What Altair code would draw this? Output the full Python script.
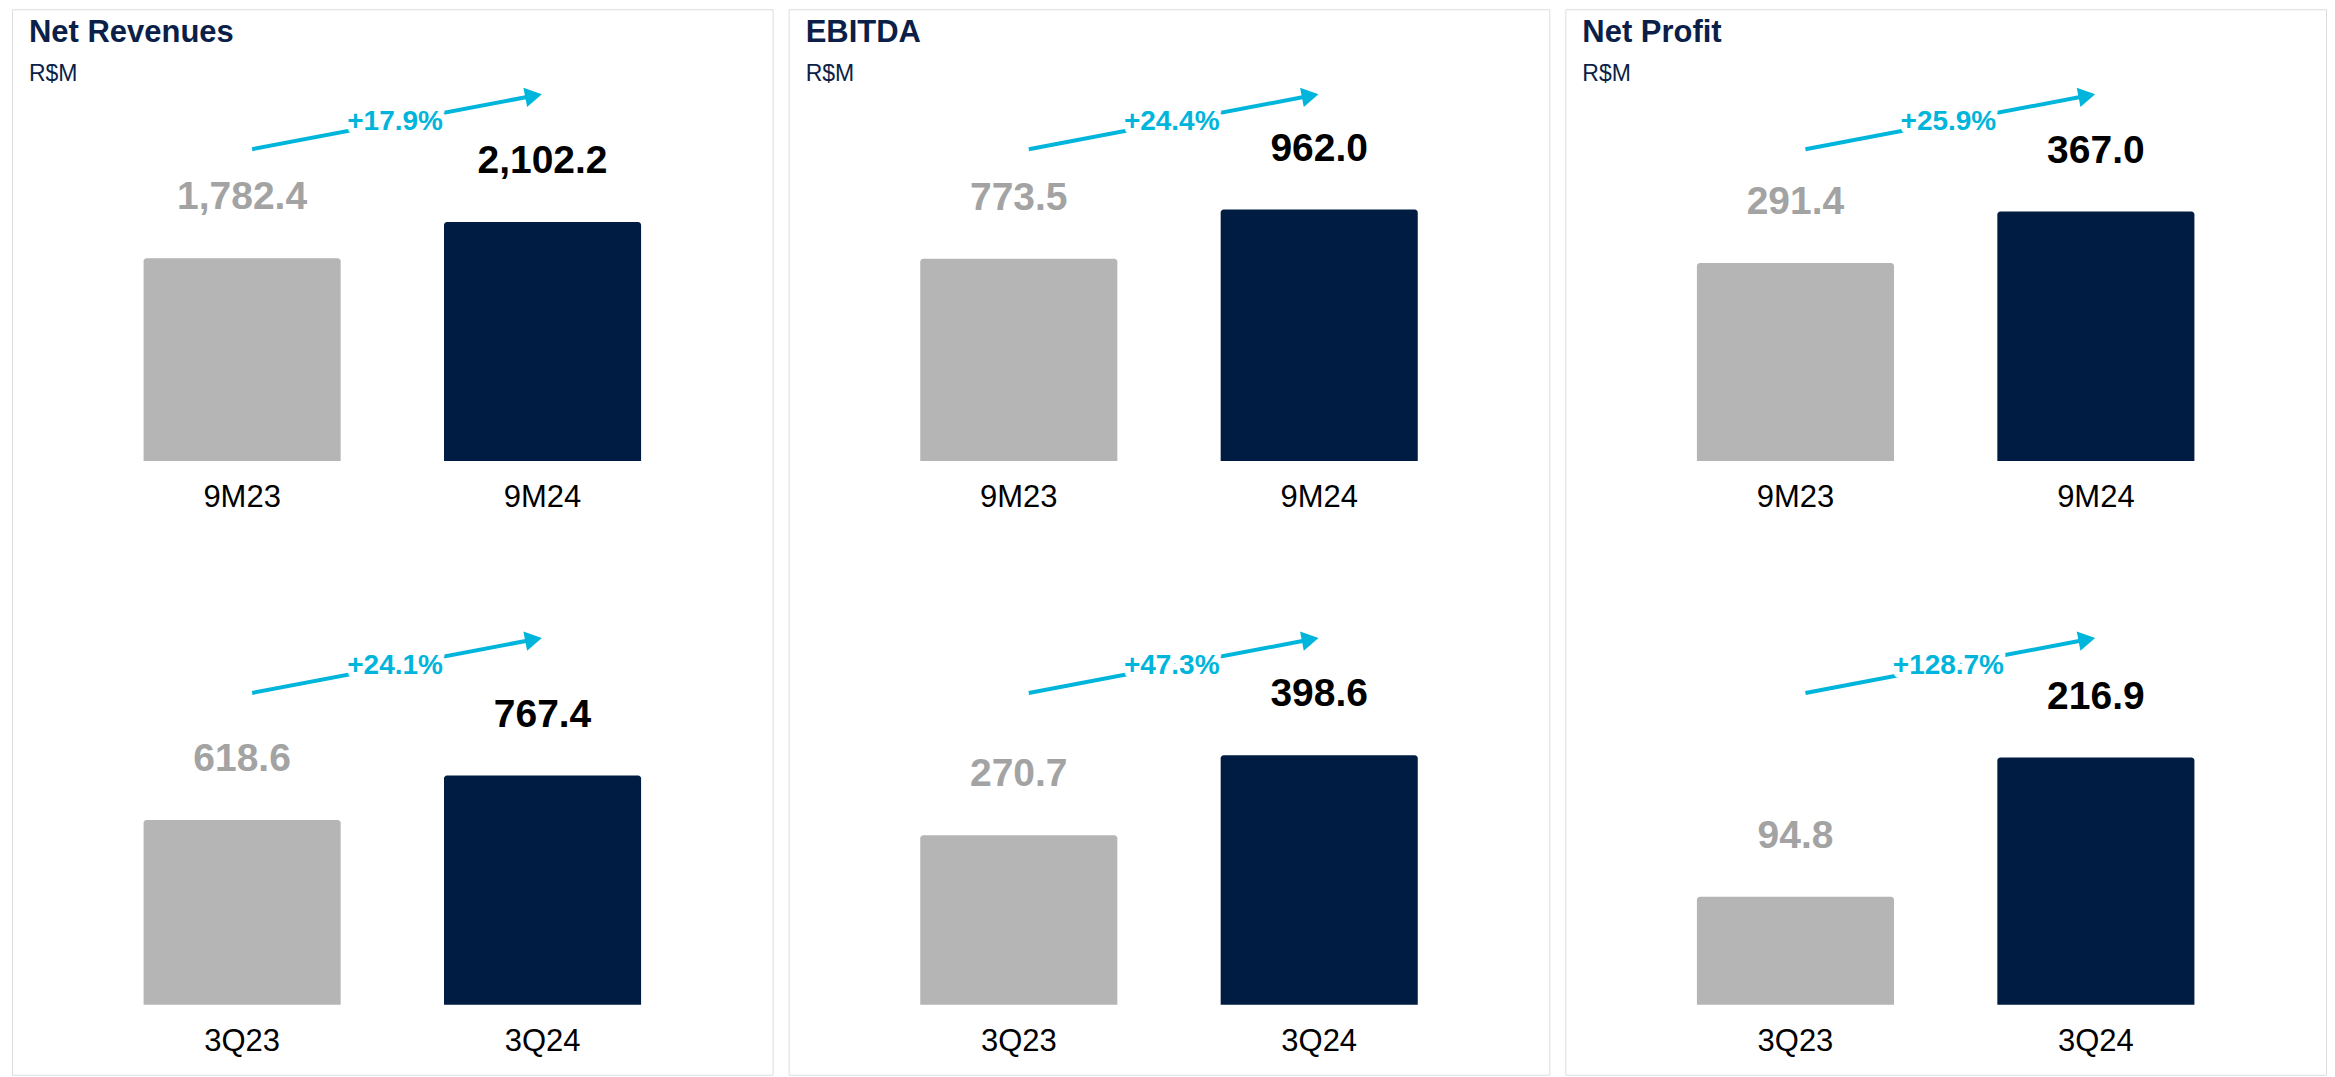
import altair as alt
import pandas as pd

# ---------------- data ----------------
metrics = ["Net Revenues", "EBITDA", "Net Profit"]
unit_label = "R$M"
periods_9m = ["9M23", "9M24"]
periods_3q = ["3Q23", "3Q24"]
prior_9m = [1782.4, 773.5, 291.4]
current_9m = [2102.2, 962.0, 367.0]
prior_3q = [618.6, 270.7, 94.8]
current_3q = [767.4, 398.6, 216.9]
growth_9m = ["+17.9%", "+24.4%", "+25.9%"]
growth_3q = ["+24.1%", "+47.3%", "+128.7%"]
# axis maximum of each small chart (value reached 300 px above its baseline)
axis_max_9m = [2636, 1147, 441]
axis_max_3q = [1004, 479, 263]

# ---------------- style ----------------
FONT = "Liberation Sans"
NAVY = "#001c42"
GRAY = "#b5b5b5"
GRAY_TXT = "#a3a3a3"
CYAN = "#00b5dc"
TITLE_C = "#0b1f48"
W, H = 761, 1066          # panel size
ROW_PLOT = 300            # px between baseline and axis max
BASE_TOP, BASE_BOT = 452, 996
ARROW_Y0, ARROW_Y1 = 1.04, 1.218

xscale = alt.Scale(domain=["prior", "current"], paddingInner=0.344, paddingOuter=0.438)


def row(periods, prior, current, growth, amax, base):
    k = ROW_PLOT / amax
    ys = alt.Scale(domain=[-(H - base) / k, base / k], nice=False, zero=False)
    df = pd.DataFrame({"slot": ["prior", "current"], "period": periods,
                       "value": [prior, current],
                       "label": [f"{prior:,.1f}", f"{current:,.1f}"]})
    arr = pd.DataFrame({"x0": ["prior"], "x1": ["current"],
                        "y0": [ARROW_Y0 * amax], "y1": [ARROW_Y1 * amax],
                        "ym": [(ARROW_Y0 + ARROW_Y1) / 2 * amax], "g": [growth]})
    X = alt.X("slot:N", scale=xscale, axis=None)
    bars = alt.Chart(df).mark_bar(cornerRadiusTopLeft=3, cornerRadiusTopRight=3).encode(
        x=X, y=alt.Y("value:Q", scale=ys, axis=None), y2=alt.Y2Datum(0),
        color=alt.condition("datum.slot === 'current'", alt.value(NAVY), alt.value(GRAY)))
    vals = alt.Chart(df).mark_text(baseline="alphabetic", dy=-49, fontSize=39,
                                   fontWeight="bold", font=FONT).encode(
        x=X, y=alt.Y("value:Q", scale=ys, axis=None), text="label:N",
        color=alt.condition("datum.slot === 'current'", alt.value("#000000"), alt.value(GRAY_TXT)))
    cats = alt.Chart(df).mark_text(baseline="alphabetic", dy=46, fontSize=31,
                                   font=FONT, color="#000000").encode(
        x=X, y=alt.YDatum(0, scale=ys, axis=None), text="period:N")
    rule = alt.Chart(arr).mark_rule(strokeWidth=4, color=CYAN, xOffset=10, x2Offset=-9).encode(
        x=alt.X("x0:N", scale=xscale, axis=None), x2="x1:N",
        y=alt.Y("y0:Q", scale=ys, axis=None), y2="y1:Q")
    head = alt.Chart(arr).mark_point(shape="triangle-right", filled=True, size=380, angle=349,
                                     color=CYAN, opacity=1, xOffset=-9).encode(
        x=alt.X("x1:N", scale=xscale, axis=None), y=alt.Y("y1:Q", scale=ys, axis=None))
    halo = alt.Chart(arr).mark_text(fontSize=28, fontWeight="bold", font=FONT, baseline="middle",
                                    xOffset=153, fill="#ffffff", stroke="#ffffff",
                                    strokeWidth=12, strokeJoin="round").encode(
        x=alt.X("x0:N", scale=xscale, axis=None), y=alt.Y("ym:Q", scale=ys, axis=None), text="g:N")
    pct = alt.Chart(arr).mark_text(fontSize=28, fontWeight="bold", font=FONT, baseline="middle",
                                   xOffset=153, color=CYAN).encode(
        x=alt.X("x0:N", scale=xscale, axis=None), y=alt.Y("ym:Q", scale=ys, axis=None), text="g:N")
    return alt.layer(bars, vals, cats, rule, head, halo, pct)


panels = []
for i, m in enumerate(metrics):
    top = row(periods_9m, prior_9m[i], current_9m[i], growth_9m[i], axis_max_9m[i], BASE_TOP)
    bot = row(periods_3q, prior_3q[i], current_3q[i], growth_3q[i], axis_max_3q[i], BASE_BOT)
    p = alt.layer(top, bot).resolve_scale(y="independent").properties(
        width=W, height=H,
        title=alt.TitleParams(text=m, subtitle=unit_label, anchor="start", dx=17, offset=-78,
                              fontSize=31, subtitleFontSize=23, color=TITLE_C,
                              subtitleColor=TITLE_C, font=FONT, subtitleFont=FONT,
                              fontWeight="bold", subtitlePadding=14))
    panels.append(p)

chart = alt.hconcat(*panels, spacing=14).properties(
    padding={"left": 3, "top": 0, "right": 0, "bottom": 0}
).configure_view(stroke="#c2c2c2", strokeWidth=3).configure(font=FONT)

chart.save("out.html", embed_options={"renderer": "svg", "actions": False})
